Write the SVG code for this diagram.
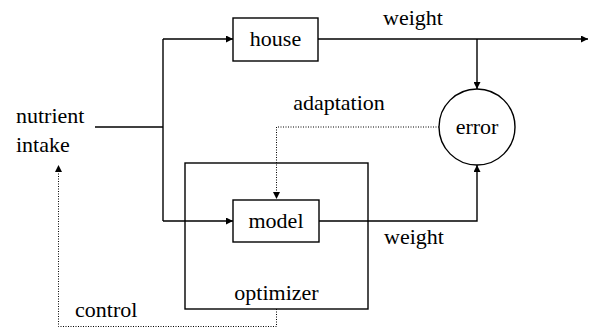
<svg xmlns="http://www.w3.org/2000/svg" width="592" height="329" viewBox="0 0 592 329">
  <defs>
    <marker id="arrow" viewBox="0 0 10 10" refX="10" refY="5" markerWidth="7" markerHeight="7" markerUnits="userSpaceOnUse" orient="auto">
      <path d="M0,0 L10,5 L0,10 z" fill="#000"/>
    </marker>
  </defs>

  <!-- connectors: solid signal wires and dotted feedback paths -->
  <g id="connectors" fill="none" stroke="#000">
    <g stroke-width="1.4">
      <path d="M95,127 H163"/>
      <path d="M163,39 V221"/>
      <path d="M163,39 H233" marker-end="url(#arrow)"/>
      <path d="M163,221 H233" marker-end="url(#arrow)"/>
      <path d="M318,39 H588" marker-end="url(#arrow)"/>
      <path d="M477,39 V89" marker-end="url(#arrow)"/>
      <path d="M319,221 H477 V165" marker-end="url(#arrow)"/>
    </g>
    <g stroke-width="1" stroke-dasharray="1 1.5">
      <path d="M439,127 H276.5 V199" marker-end="url(#arrow)"/>
      <path d="M276.5,309 V326.5 H58.5 V165" marker-end="url(#arrow)"/>
    </g>
  </g>

  <g id="labels" font-size="22" font-family="Liberation Serif" fill="#000">
    <text x="413" y="25" text-anchor="middle" font-family="Liberation Serif">weight</text>
    <text x="414" y="244" text-anchor="middle" font-family="Liberation Serif">weight</text>
    <text x="339" y="110" text-anchor="middle" font-family="Liberation Serif">adaptation</text>
    <text x="75" y="317" font-family="Liberation Serif">control</text>
  </g>

  <g id="intake" font-size="22" font-family="Liberation Serif">
    <text x="16" y="123" font-family="Liberation Serif">nutrient</text>
    <text x="16" y="152" font-family="Liberation Serif">intake</text>
  </g>

  <g id="house" font-size="22" font-family="Liberation Serif">
    <rect x="233" y="18" width="85" height="43" fill="none" stroke="#000" stroke-width="1.4"/>
    <text x="275.5" y="46" text-anchor="middle" font-family="Liberation Serif">house</text>
  </g>

  <g id="error" font-size="22" font-family="Liberation Serif">
    <circle cx="477" cy="127" r="38" fill="none" stroke="#000" stroke-width="1.4"/>
    <text x="477" y="134" text-anchor="middle" font-family="Liberation Serif">error</text>
  </g>

  <g id="optimizer" font-size="22" font-family="Liberation Serif">
    <rect x="185" y="163" width="183" height="146" fill="none" stroke="#000" stroke-width="1.4"/>
    <text x="276.5" y="300" text-anchor="middle" font-family="Liberation Serif">optimizer</text>
  </g>

  <g id="model" font-size="22" font-family="Liberation Serif">
    <rect x="233" y="200" width="86" height="42" fill="none" stroke="#000" stroke-width="1.4"/>
    <text x="276" y="228" text-anchor="middle" font-family="Liberation Serif">model</text>
  </g>
</svg>
